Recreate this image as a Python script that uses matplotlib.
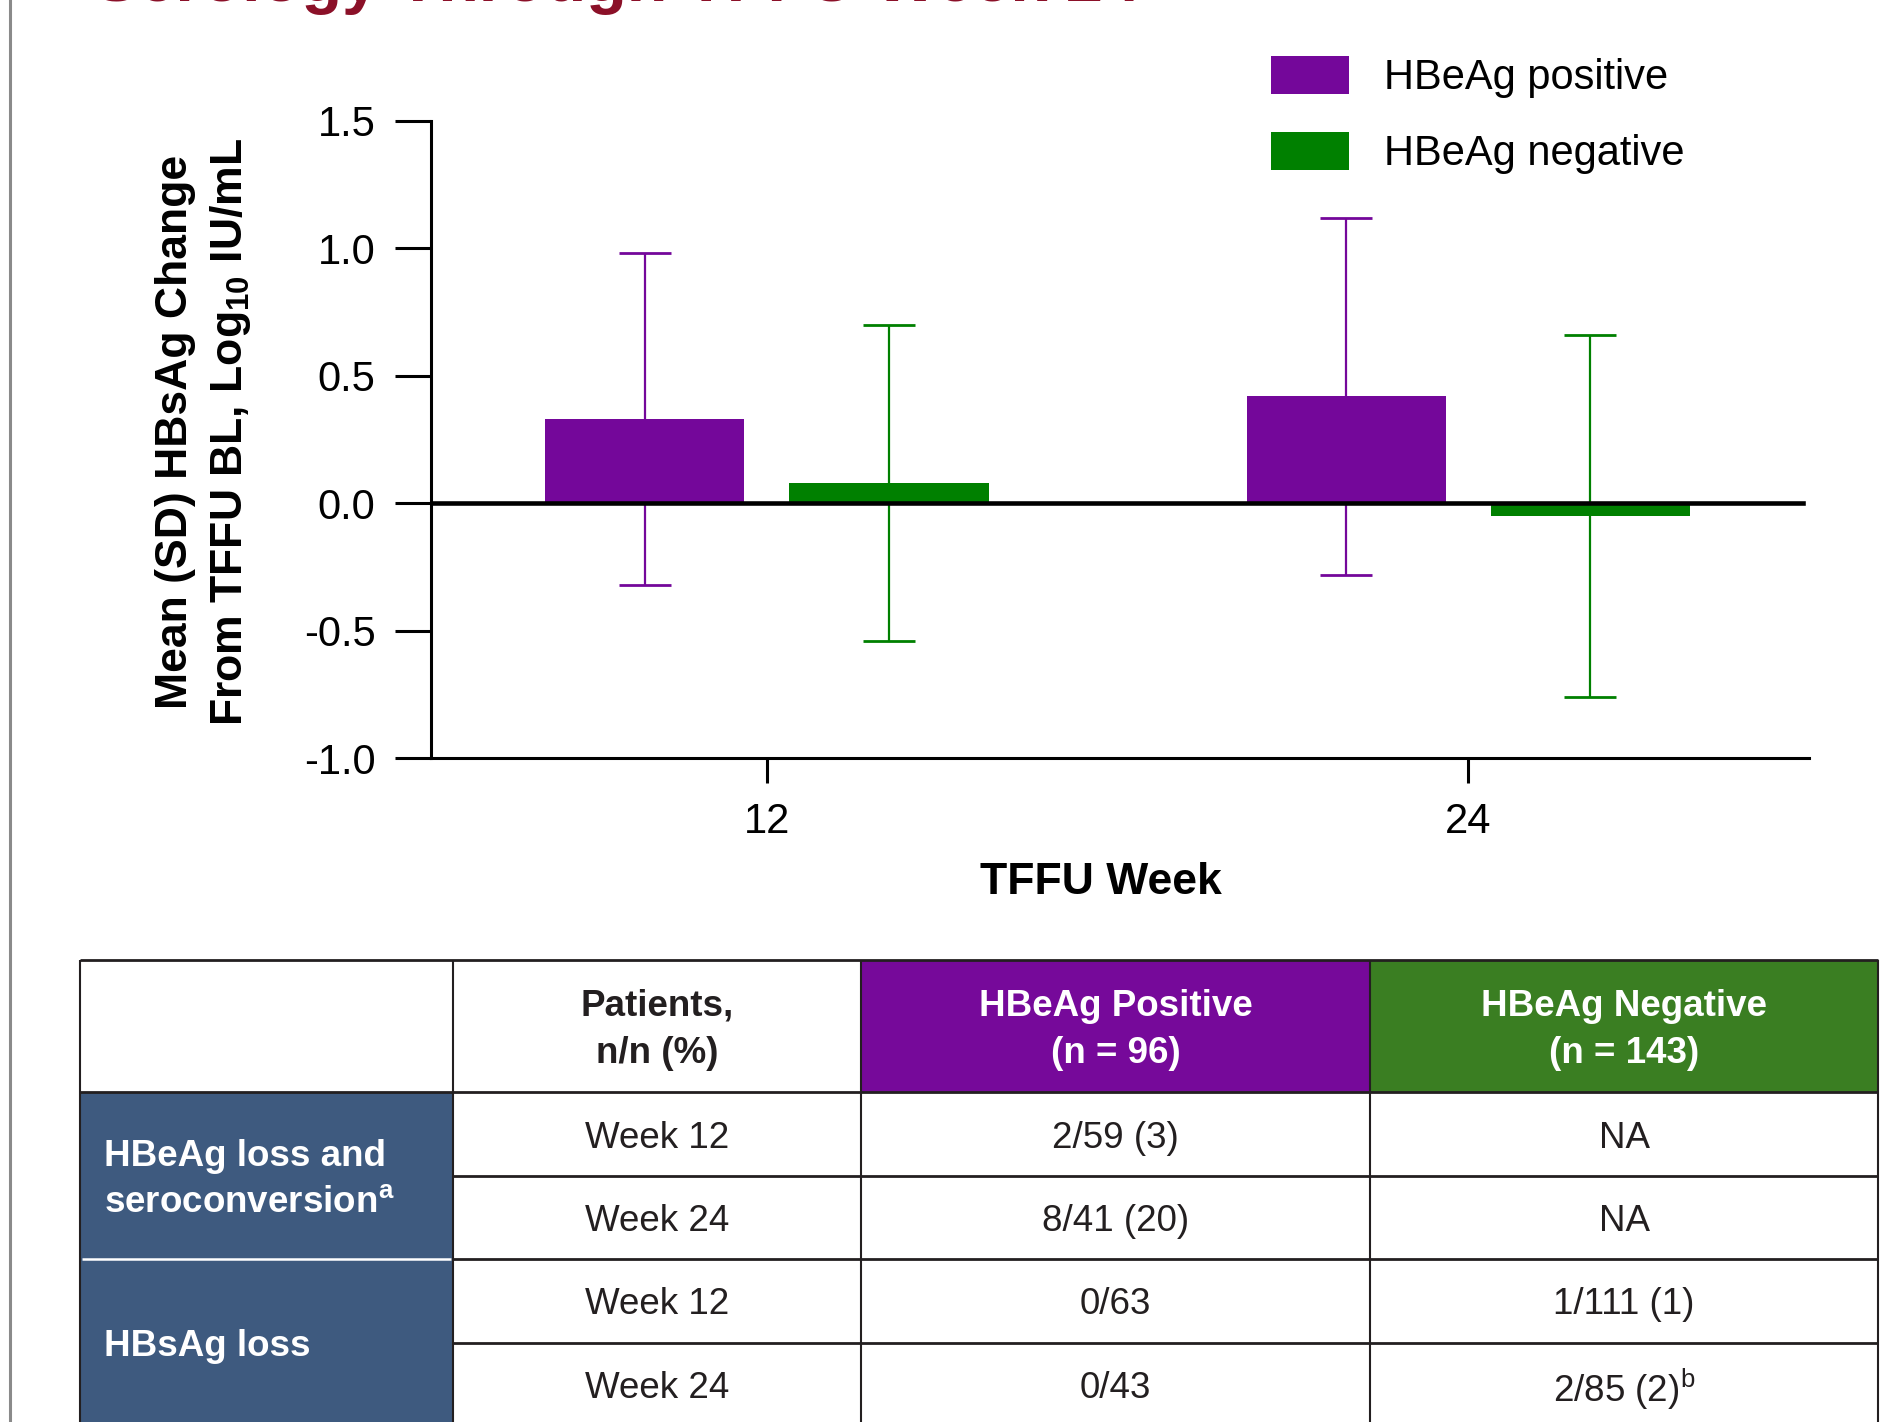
import numpy as np
import matplotlib
matplotlib.use("Agg")
import matplotlib.pyplot as plt
from matplotlib.patches import Rectangle

plt.rcParams['font.family'] = ['Liberation Sans', 'DejaVu Sans']
plt.rcParams['mathtext.fontset'] = 'custom'
plt.rcParams['mathtext.rm'] = 'Liberation Sans'
plt.rcParams['mathtext.it'] = 'Liberation Sans:italic'
plt.rcParams['mathtext.bf'] = 'Liberation Sans:bold'

# chart data
weeks = ["12", "24"]
pos_mean = [0.33, 0.42]
pos_sd = [0.65, 0.70]
neg_mean = [0.08, -0.05]
neg_sd = [0.62, 0.71]
series_labels = ["HBeAg positive", "HBeAg negative"]

# table data
header = ["", "Patients,\nn/n (%)", "HBeAg Positive\n(n = 96)", "HBeAg Negative\n(n = 143)"]
groups = ["HBeAg loss and\nseroconversion$^{\\mathbf{a}}$", "HBsAg loss"]
row_weeks = ["Week 12", "Week 24", "Week 12", "Week 24"]
pos_vals = ["2/59 (3)", "8/41 (20)", "0/63", "0/43"]
neg_vals = ["NA", "NA", "1/111 (1)", "2/85 (2)$^{\\mathrm{b}}$"]

purple = '#74079a'
green = '#008000'
hdr_purple = '#76099a'
hdr_green = '#3a7e22'
blue = '#3e5a7f'
dark = '#231f20'
W, H = 1904, 1422

fig = plt.figure(figsize=(W / 100, H / 100), dpi=100)

# ---- bar chart ----
ax = fig.add_axes([431 / W, 1 - 758 / H, (1809 - 431) / W, (758 - 121) / H])
x = np.arange(len(weeks))
bw = 0.284
off = 0.174
ekw = dict(elinewidth=1.6, capsize=19, capthick=2.0)
ax.bar(x - off, pos_mean, bw, yerr=pos_sd, color=purple, ecolor=purple,
       error_kw=ekw, label=series_labels[0], zorder=2)
ax.bar(x + off, neg_mean, bw, yerr=neg_sd, color=green, ecolor=green,
       error_kw=ekw, label=series_labels[1], zorder=2)
ax.axhline(0, color='black', lw=3.3, xmax=0.996, zorder=3)

ax.set_xlim(-0.479, 1.486)
ax.set_ylim(-1.0, 1.5)
ax.set_yticks([-1.0, -0.5, 0.0, 0.5, 1.0, 1.5])
ax.set_yticklabels(["-1.0", "-0.5", "0.0", "0.5", "1.0", "1.5"])
ax.set_xticks(x)
ax.set_xticklabels(weeks)
for s in ['top', 'right']:
    ax.spines[s].set_visible(False)
for s in ['left', 'bottom']:
    ax.spines[s].set_linewidth(2.2)
ax.tick_params(axis='y', length=26, width=2.2, pad=14, labelsize=30)
ax.tick_params(axis='x', length=18, width=2.2, pad=14, labelsize=30)

ax.legend(loc='upper left', bbox_to_anchor=(1271 / W, 1 - 56 / H),
          bbox_transform=fig.transFigure, frameon=False, fontsize=30,
          handlelength=1.87, handleheight=1.03, handletextpad=0.84,
          labelspacing=0.80, borderpad=0, borderaxespad=0)

fig.text(1101 / W, 1 - 882 / H, "TFFU Week", ha='center', va='center',
         fontsize=32, fontweight='bold')
fig.text(204 / W, 1 - 432 / H,
         "Mean (SD) HBsAg Change\nFrom TFFU BL, Log$_{\\mathbf{10}}$ IU/mL",
         rotation=90, ha='center', va='center', multialignment='center',
         fontsize=32, fontweight='bold', linespacing=1.38)

# cut-off title at the very top
fig.text(94 / W, 1 - 1 / H, "Serology Through TFFU Week 24", ha='left',
         va='baseline', fontsize=48, fontweight='bold', color='#8b1028')

# ---- table ----
t = fig.add_axes([0, 0, 1, 1])
t.set_xlim(0, W)
t.set_ylim(H, 0)
t.axis('off')

xe = [80, 453, 861, 1370, 1878]
ye = [960, 1092, 1176, 1259, 1343, 1427]
fs = 26.5
dy = 4  # small downward nudge of text in cells

# left page rule
t.plot([10, 10], [0, H], color='#8a8a8a', lw=2.2)

hdr_colors = ['white', 'white', hdr_purple, hdr_green]
hdr_text = [dark, dark, 'white', 'white']
for j in range(4):
    t.add_patch(Rectangle((xe[j], ye[0]), xe[j + 1] - xe[j], ye[1] - ye[0],
                          facecolor=hdr_colors[j], edgecolor='none'))
    t.text((xe[j] + xe[j + 1]) / 2, (ye[0] + ye[1]) / 2 + dy, header[j],
           ha='center', va='center', fontsize=fs, fontweight='bold',
           color=hdr_text[j], linespacing=1.45)

for g in range(2):
    y0, y1 = ye[1 + 2 * g], ye[3 + 2 * g]
    t.add_patch(Rectangle((xe[0], y0), xe[1] - xe[0], y1 - y0,
                          facecolor=blue, edgecolor='none'))
    t.text(104, (y0 + y1) / 2 + dy, groups[g], ha='left', va='center',
           fontsize=fs, fontweight='bold', color='white', linespacing=1.42)

for i in range(4):
    yc = (ye[i + 1] + ye[i + 2]) / 2 + dy
    t.text((xe[1] + xe[2]) / 2, yc, row_weeks[i], ha='center', va='center',
           fontsize=fs, color=dark)
    t.text((xe[2] + xe[3]) / 2, yc, pos_vals[i], ha='center', va='center',
           fontsize=fs, color=dark)
    t.text((xe[3] + xe[4]) / 2, yc, neg_vals[i], ha='center', va='center',
           fontsize=fs, color=dark)

# grid lines
lw_h = 2.0
t.hlines(ye[0], xe[0], xe[4], color=dark, lw=lw_h)
t.hlines(ye[1], xe[0], xe[4], color=dark, lw=lw_h)
t.hlines(ye[2:5], xe[1], xe[4], color=dark, lw=lw_h)
t.hlines(ye[3], xe[0] + 2, xe[1] - 2, color='white', lw=1.8)
t.vlines(xe, ye[0], H, color=dark, lw=1.5)

fig.savefig("out.png", dpi=100)
